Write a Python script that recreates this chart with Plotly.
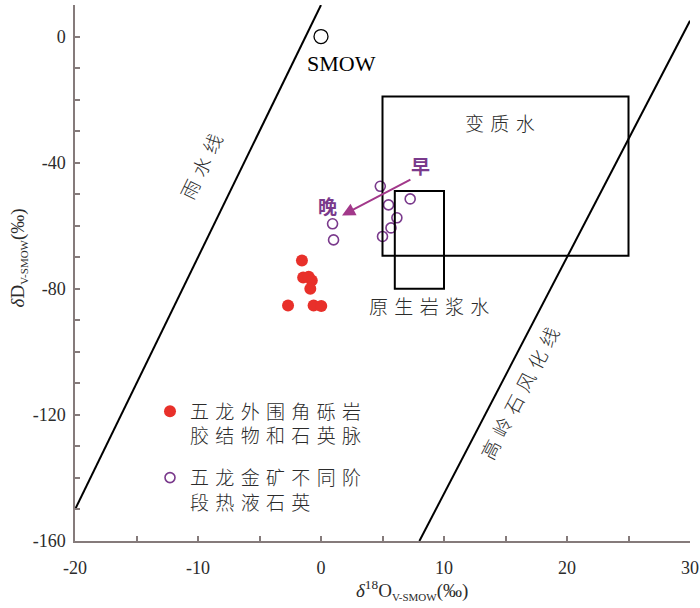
import plotly.graph_objects as go

# ---------------- data ----------------
# 五龙外围角砾岩胶结物和石英脉 (filled red)
breccia_d18o = [-1.55, -1.45, -1.0, -0.75, -0.87, -2.68, -0.6, 0.02]
breccia_dD = [-71.0, -76.4, -76.2, -77.4, -80.0, -85.3, -85.3, -85.5]

# 五龙金矿不同阶段热液石英 (open purple)
quartz_d18o = [4.82, 7.25, 5.49, 6.17, 5.69, 5.0, 0.94, 1.02]
quartz_dD = [-47.5, -51.5, -53.4, -57.5, -60.7, -63.4, -59.4, -64.5]

# SMOW
smow_d18o = [0.0]
smow_dD = [0.0]

# reference water fields (δ18O range, δD range)
metamorphic_x = [5, 25]
metamorphic_y = [-69.5, -19]
magmatic_x = [6, 10]
magmatic_y = [-80, -49]

# reference lines
mwl_x = [-20, 0]                  # δD = 8 δ18O + 10
mwl_y = [8 * v + 10 for v in mwl_x]
kao_x = [8, 30]                   # δD = 7.5 δ18O - 220
kao_y = [7.5 * v - 220 for v in kao_x]

x_range = [-20, 30]
y_range = [-160, 10]
x_tickvals = [-20, -10, 0, 10, 20, 30]
x_ticktext = ["-20", "-10", "0", "10", "20", "30"]
y_tickvals = [-160, -120, -80, -40, 0]
y_ticktext = ["-160", "-120", "-80", "-40", "0"]

SP = "\u2004"
def spaced(s):
    return SP.join(list(s))

legend_names = [
    spaced("五龙外围角砾岩") + "<br>" + spaced("胶结物和石英脉"),
    spaced("五龙金矿不同阶") + "<br>" + spaced("段热液石英"),
]

CJK = "Noto Sans CJK SC"
SERIF = "Liberation Serif"
AXC = "#857b7b"
PURPLE = "#7a3a8c"
RED = "#e8302a"
TXT = "#2b2b2b"

fig = go.Figure()

# reference lines
fig.add_trace(go.Scatter(x=mwl_x, y=mwl_y, mode="lines",
                         line=dict(color="black", width=2), showlegend=False, hoverinfo="skip"))
fig.add_trace(go.Scatter(x=kao_x, y=kao_y, mode="lines",
                         line=dict(color="black", width=2), showlegend=False, hoverinfo="skip"))

# boxes
for bx, by in [(metamorphic_x, metamorphic_y), (magmatic_x, magmatic_y)]:
    fig.add_shape(type="rect", x0=bx[0], x1=bx[1], y0=by[0], y1=by[1],
                  line=dict(color="black", width=2), xref="x", yref="y")

# points
fig.add_trace(go.Scatter(x=breccia_d18o, y=breccia_dD, mode="markers",
                         name=legend_names[0], legendgroup="a",
                         marker=dict(color=RED, size=12, line=dict(width=0))))
fig.add_trace(go.Scatter(x=quartz_d18o, y=quartz_dD, mode="markers",
                         name=legend_names[1], legendgroup="b",
                         marker=dict(symbol="circle-open", color=PURPLE, size=10,
                                     line=dict(width=1.6, color=PURPLE))))
fig.add_trace(go.Scatter(x=smow_d18o, y=smow_dD, mode="markers", showlegend=False,
                         marker=dict(symbol="circle-open", color="black", size=14,
                                     line=dict(width=1.3, color="black"))))

ann = []
def txt(x, y, s, size=19, color=TXT, family=CJK, angle=0, weight=300):
    ann.append(dict(x=x, y=y, xref="x", yref="y", text=s, showarrow=False,
                    font=dict(size=size, color=color, family=family, weight=weight),
                    textangle=angle))

txt(1.7, -8.5, "SMOW", size=22, family=SERIF, color="black", weight=400)
txt(14.56, -27.3, spaced("变质水"), size=19)
txt(8.8, -85.3, spaced("原生岩浆水"), size=19)
txt(-9.8, -40.8, spaced("雨水线"), size=19, angle=-64)
txt(16.1, -112.9, spaced("高岭石风化线"), size=19, angle=-62.5)
txt(8.07, -40.9, "<b>早</b>", size=19, color=PURPLE, weight=700)
txt(0.49, -53.6, "<b>晚</b>", size=19, color=PURPLE, weight=700)

# arrow 早 -> 晚
ann.append(dict(x=1.71, y=-56.75, ax=7.39, ay=-45.1, xref="x", yref="y",
                axref="x", ayref="y", text="", showarrow=True,
                arrowhead=2, arrowsize=1.3, arrowwidth=2, arrowcolor="#a2388a"))

# axis titles
ann.append(dict(x=(412 - 75) / 615, y=-(590 - 540.7) / 536.2, xref="paper", yref="paper",
                xanchor="center", yanchor="middle",
                text="<i>δ</i><sup>18</sup>O<sub><span style='font-size:11px'>V-SMOW</span></sub>(‰)",
                showarrow=False, font=dict(family=SERIF, size=19, color=TXT)))
ann.append(dict(x=-(75 - 18) / 615, y=(540.7 - 258) / 536.2, xref="paper", yref="paper",
                xanchor="center", yanchor="middle",
                text="<i>δ</i>D<sub><span style='font-size:11px'>V-SMOW</span></sub>(‰)",
                textangle=-90, showarrow=False, font=dict(family=SERIF, size=19, color=TXT)))

axis_common = dict(showgrid=False, zeroline=False, showline=True, linecolor=AXC, linewidth=1.5,
                   ticks="inside", ticklen=5, tickwidth=1.5, tickcolor=AXC, automargin=False,
                   tickfont=dict(family=SERIF, size=18, color=TXT))

fig.update_layout(
    width=700, height=608,
    margin=dict(l=75, r=10, t=5, b=67),
    paper_bgcolor="white", plot_bgcolor="white",
    xaxis=dict(range=x_range, tickvals=x_tickvals, ticktext=x_ticktext,
               minor=dict(dtick=5, tick0=0, ticks="inside", ticklen=5, tickwidth=1.5, tickcolor=AXC),
               ticklabelstandoff=10, **axis_common),
    yaxis=dict(range=y_range, tickvals=y_tickvals, ticktext=y_ticktext,
               minor=dict(dtick=10, tick0=0, ticks="inside", ticklen=5, tickwidth=1.5, tickcolor=AXC),
               ticklabelstandoff=4, **axis_common),
    legend=dict(x=(150 - 75) / 615, y=(540.7 - 392) / 536.2, xanchor="left", yanchor="top",
                bgcolor="rgba(0,0,0,0)", valign="top", tracegroupgap=14,
                font=dict(family=CJK, size=19, color=TXT, weight=300)),
    annotations=ann,
    showlegend=True,
)

fig.write_html("out.html", config={"displayModeBar": False},
               post_script="document.body.style.margin='0';document.body.style.overflow='hidden';")
